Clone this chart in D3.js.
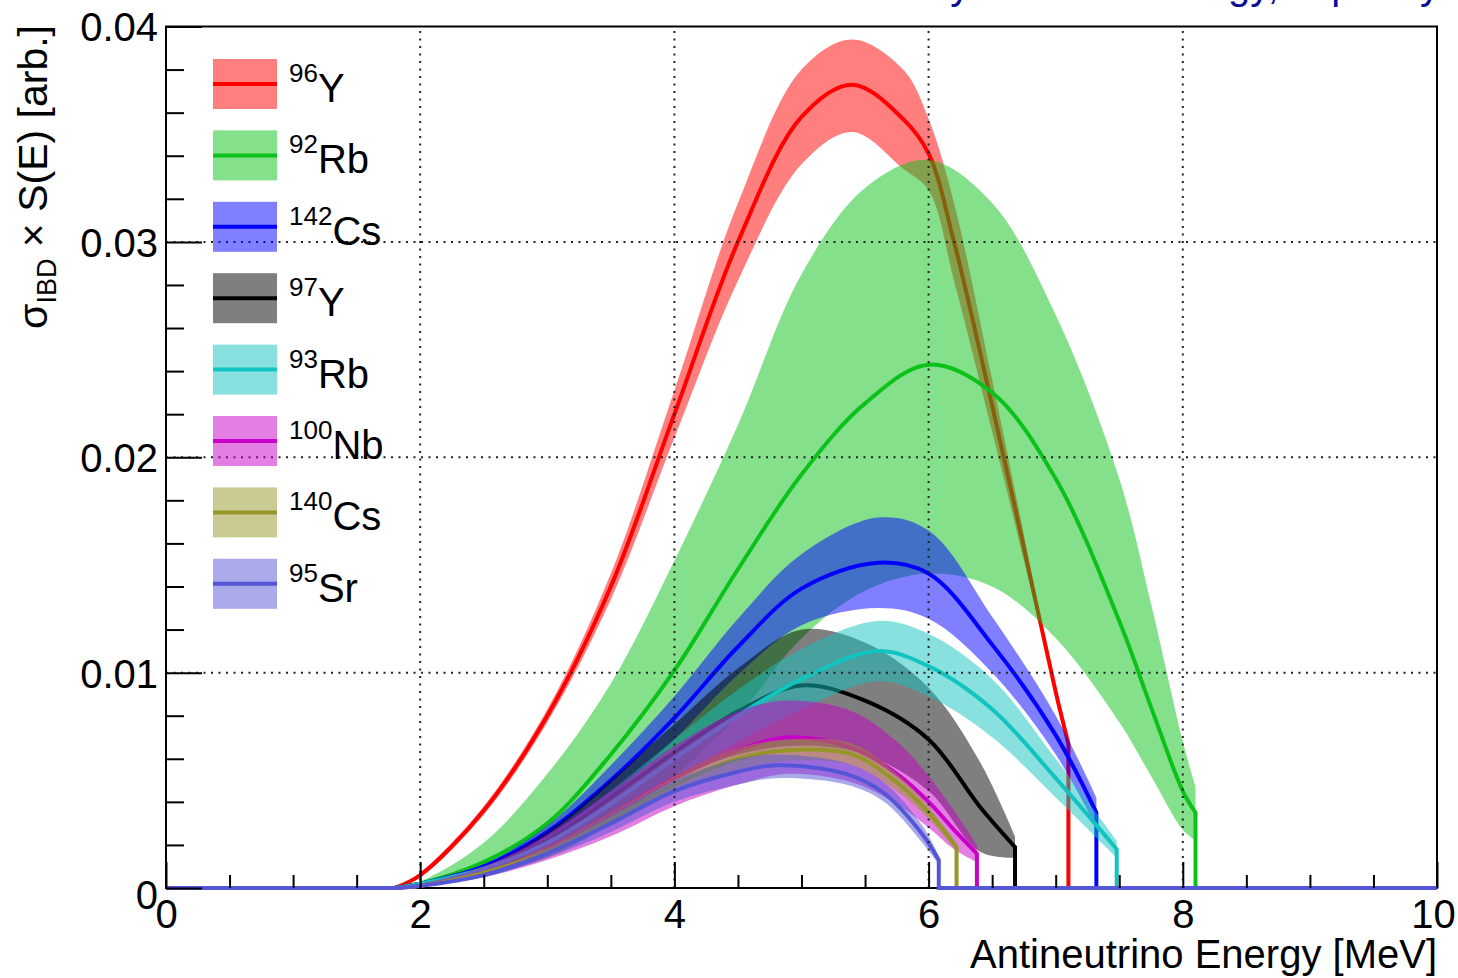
<!DOCTYPE html>
<html>
<head>
<meta charset="utf-8">
<script src="https://cdn.jsdelivr.net/npm/d3@7"></script>
<style>
  html, body { margin: 0; padding: 0; background: #fff; }
  svg { display: block; }
  text { font-family: "Liberation Sans", Arial, Helvetica, sans-serif; fill: #000; }
</style>
</head>
<body>
<svg id="chart" width="1458" height="978"></svg>
<script>
// ---------------- DATA ----------------
const isotopeNames = ["96Y", "92Rb", "142Cs", "97Y", "93Rb", "100Nb", "140Cs", "95Sr"];
const massNumbers  = ["96", "92", "142", "97", "93", "100", "140", "95"];
const elements     = ["Y", "Rb", "Cs", "Y", "Rb", "Nb", "Cs", "Sr"];

const xTickValues = [0, 2, 4, 6, 8, 10];
const xTickLabels = ["0", "2", "4", "6", "8", "10"];
const yTickValues = [0, 0.01, 0.02, 0.03, 0.04];
const yTickLabels = ["0", "0.01", "0.02", "0.03", "0.04"];

// 96Y
const e_96Y  = [1.8, 2.0, 2.5, 3.0, 3.5, 4.0, 4.5, 5.0, 5.4, 5.8, 6.0, 6.2, 6.5, 6.75, 7.0, 7.1];
const c_96Y  = [0, .0006, .0036, .0080, .0140, .0220, .0300, .0358, .0373, .0357, .0341, .0300, .0224, .0158, .0091, .0067];
const hi_96Y = [0, .0007, .0038, .0083, .0146, .0231, .0318, .0380, .0394, .0380, .0357, .0318, .0236, .0164, .0091, .0067];
const lo_96Y = [0, .0005, .0034, .0077, .0134, .0209, .0282, .0336, .0351, .0334, .0324, .0282, .0212, .0152, .0091, .0067];
// 92Rb
const e_92Rb  = [1.8, 2.0, 2.5, 3.0, 3.5, 4.0, 4.5, 5.0, 5.5, 6.0, 6.5, 7.0, 7.5, 7.75, 8.0, 8.1];
const c_92Rb  = [0, .0002, .0012, .0030, .0062, .0101, .0148, .0192, .0225, .0243, .0230, .0190, .0124, .0084, .0045, .0035];
const hi_92Rb = [0, .0003, .0021, .0053, .0095, .0152, .0215, .0285, .0325, .0338, .0318, .0266, .0190, .0132, .0068, .0047];
const lo_92Rb = [0, .0001, .0006, .0014, .0030, .0052, .0080, .0116, .0138, .0146, .0140, .0116, .0077, .0052, .0027, .0022];
// 142Cs
const e_142Cs  = [1.8, 2.0, 2.5, 3.0, 3.5, 4.0, 4.5, 5.0, 5.6, 6.0, 6.5, 7.0, 7.32];
const c_142Cs  = [0, .0002, .0010, .0026, .0050, .0079, .0112, .0139, .0151, .0146, .0113, .0071, .0035];
const hi_142Cs = [0, .0002, .0011, .0029, .0057, .0089, .0125, .0155, .0172, .0166, .0126, .0080, .0042];
const lo_142Cs = [0, .0002, .0009, .0022, .0043, .0069, .0099, .0122, .0130, .0125, .0100, .0062, .0028];
// 97Y
const e_97Y  = [1.8, 2.0, 2.5, 3.0, 3.5, 4.0, 4.5, 5.0, 5.5, 6.0, 6.4, 6.68];
const c_97Y  = [0, .0002, .0009, .0022, .0042, .0063, .0082, .0094, .0087, .0069, .0038, .0019];
const hi_97Y = [0, .0002, .0010, .0026, .0050, .0076, .0102, .0120, .0114, .0093, .0059, .0024];
const lo_97Y = [0, .0001, .0008, .0018, .0034, .0050, .0062, .0066, .0062, .0045, .0017, .0014];
// 93Rb
const e_93Rb  = [1.8, 2.0, 2.5, 3.0, 3.5, 4.0, 4.5, 5.0, 5.6, 6.0, 6.5, 7.0, 7.48];
const c_93Rb  = [0, .0002, .0009, .0021, .0039, .0060, .0080, .0097, .0110, .0103, .0083, .0051, .0018];
const hi_93Rb = [0, .0002, .0010, .0024, .0045, .0069, .0092, .0111, .0124, .0118, .0097, .0060, .0022];
const lo_93Rb = [0, .0001, .0008, .0018, .0033, .0051, .0068, .0083, .0096, .0089, .0070, .0042, .0014];
// 100Nb
const e_100Nb  = [1.8, 2.0, 2.5, 3.0, 3.5, 4.0, 4.5, 4.9, 5.4, 5.75, 6.0, 6.2, 6.38];
const c_100Nb  = [0, .0001, .0007, .0018, .0034, .0051, .0064, .0070, .0065, .0053, .0040, .0027, .0016];
const hi_100Nb = [0, .0002, .0010, .0025, .0045, .0066, .0082, .0087, .0082, .0068, .0052, .0036, .0020];
const lo_100Nb = [0, .0001, .0005, .0013, .0024, .0038, .0048, .0053, .0049, .0039, .0028, .0018, .0012];
// 140Cs
const e_140Cs  = [1.8, 2.0, 2.5, 3.0, 3.5, 4.0, 4.5, 4.9, 5.4, 5.75, 6.0, 6.22];
const c_140Cs  = [0, .0001, .0007, .0017, .0032, .0048, .0060, .0064, .0062, .0049, .0035, .0019];
const hi_140Cs = [0, .0001, .0008, .0019, .0035, .0052, .0065, .0069, .0067, .0053, .0038, .0021];
const lo_140Cs = [0, .0001, .0006, .0015, .0029, .0044, .0055, .0059, .0057, .0045, .0032, .0017];
// 95Sr
const e_95Sr  = [1.8, 2.0, 2.5, 3.0, 3.5, 4.0, 4.5, 4.8, 5.35, 5.65, 5.95, 6.08];
const c_95Sr  = [0, .0001, .0006, .0016, .0030, .0045, .0054, .0057, .0053, .0044, .0025, .0013];
const hi_95Sr = [0, .0001, .0007, .0018, .0034, .0050, .0060, .0062, .0058, .0049, .0029, .0015];
const lo_95Sr = [0, .0001, .0005, .0014, .0026, .0040, .0048, .0051, .0048, .0040, .0021, .0011];

const seriesColors = ["#ff0000", "#0cc21a", "#0000ff", "#000000", "#12c4c0", "#c800c8", "#969628", "#5555d8"];

// ---------------- BUILD ----------------
const energies = [e_96Y, e_92Rb, e_142Cs, e_97Y, e_93Rb, e_100Nb, e_140Cs, e_95Sr];
const centrals = [c_96Y, c_92Rb, c_142Cs, c_97Y, c_93Rb, c_100Nb, c_140Cs, c_95Sr];
const uppers   = [hi_96Y, hi_92Rb, hi_142Cs, hi_97Y, hi_93Rb, hi_100Nb, hi_140Cs, hi_95Sr];
const lowers   = [lo_96Y, lo_92Rb, lo_142Cs, lo_97Y, lo_93Rb, lo_100Nb, lo_140Cs, lo_95Sr];

const series = isotopeNames.map((name, k) => ({
  name, mass: massNumbers[k], el: elements[k], color: seriesColors[k],
  pts: energies[k].map((e, i) => ({ e, c: centrals[k][i], hi: uppers[k][i], lo: lowers[k][i] }))
}));

const svg = d3.select("#chart");
const L = 166, R = 1437, T = 26.5, B = 888;
const x = d3.scaleLinear().domain([0, 10]).range([L, R]);
const y = d3.scaleLinear().domain([0, 0.04]).range([B, T]);

// frame (under the data)
svg.append("rect").attr("x", L).attr("y", T).attr("width", R - L).attr("height", B - T)
  .attr("fill", "none").attr("stroke", "#000").attr("stroke-width", 2);

const dataG = svg.append("g");
const smooth = d3.curveCatmullRom.alpha(0.5);
const area = d3.area().x(d => x(d.e)).y0(d => y(d.lo)).y1(d => y(d.hi)).curve(smooth);
const curveLine = d3.line().x(d => x(d.e)).y(d => y(d.c)).curve(smooth);

series.forEach(s => {
  dataG.append("path").attr("d", area(s.pts))
    .attr("fill", s.color).attr("fill-opacity", 0.5).attr("stroke", "none");
  const first = s.pts[0], last = s.pts[s.pts.length - 1];
  const d = "M" + x(0) + "," + y(0) + "L" + curveLine(s.pts).slice(1) +
            "L" + x(last.e) + "," + y(0) + "L" + x(10) + "," + y(0);
  dataG.append("path").attr("d", d).attr("fill", "none")
    .attr("stroke", s.color).attr("stroke-width", 4).attr("stroke-linejoin", "miter");
});

// grid (dotted) on top
const gridG = svg.append("g").attr("stroke", "#222").attr("stroke-width", 2).attr("stroke-dasharray", "2,5.5");
[2, 4, 6, 8].forEach(v => gridG.append("line").attr("x1", x(v)).attr("x2", x(v)).attr("y1", B).attr("y2", T));
[0.01, 0.02, 0.03].forEach(v => gridG.append("line").attr("x1", L).attr("x2", R).attr("y1", y(v)).attr("y2", y(v)));

// axes
const xMinor = d3.range(0, 10.01, 0.5).filter(v => v % 2 !== 0);
const yMinor = d3.range(0, 0.0401, 0.002).filter(v => Math.abs(v / 0.01 - Math.round(v / 0.01)) > 1e-6);

const xAxisMajor = d3.axisBottom(x).tickValues(xTickValues).tickSizeInner(-26).tickSizeOuter(0)
  .tickFormat((d, i) => xTickLabels[i]).tickPadding(0);
const gx = svg.append("g").attr("transform", `translate(0,${B})`).call(xAxisMajor);
gx.select(".domain").remove();
gx.selectAll("line").attr("stroke", "#000").attr("stroke-width", 2);
gx.selectAll("text").attr("font-size", 40).attr("y", 40).attr("dy", 0)
  .attr("font-family", '"Liberation Sans", Arial, sans-serif');
gx.selectAll(".tick").filter(d => d === 10).select("text").attr("x", -4);

const gxm = svg.append("g").attr("transform", `translate(0,${B})`)
  .call(d3.axisBottom(x).tickValues(xMinor).tickSizeInner(-13).tickSizeOuter(0).tickFormat(""));
gxm.select(".domain").remove();
gxm.selectAll("line").attr("stroke", "#000").attr("stroke-width", 2);

const yAxisMajor = d3.axisLeft(y).tickValues(yTickValues).tickSizeInner(-36).tickSizeOuter(0)
  .tickFormat((d, i) => yTickLabels[i]).tickPadding(0);
const gy = svg.append("g").attr("transform", `translate(${L},0)`).call(yAxisMajor);
gy.select(".domain").remove();
gy.selectAll("line").attr("stroke", "#000").attr("stroke-width", 2);
gy.selectAll("text").attr("font-size", 40).attr("x", -8).attr("dy", "0.36em")
  .attr("font-family", '"Liberation Sans", Arial, sans-serif');
gy.selectAll(".tick").filter(d => d === 0).select("text").attr("dy", "0.52em");

const gym = svg.append("g").attr("transform", `translate(${L},0)`)
  .call(d3.axisLeft(y).tickValues(yMinor).tickSizeInner(-18).tickSizeOuter(0).tickFormat(""));
gym.select(".domain").remove();
gym.selectAll("line").attr("stroke", "#000").attr("stroke-width", 2);

// axis titles
svg.append("text").attr("x", R).attr("y", 968).attr("text-anchor", "end")
  .attr("font-size", 40).text("Antineutrino Energy [MeV]");

const yt = svg.append("text").attr("transform", "translate(47,25) rotate(-90)")
  .attr("text-anchor", "end").attr("font-size", 41);
yt.append("tspan").text("σ");
yt.append("tspan").attr("font-size", 27).attr("dy", 9).text("IBD");
yt.append("tspan").attr("dy", -9).text(" × S(E) [arb.]");

// legend
const legG = svg.append("g");
series.forEach((s, i) => {
  const cy = 84 + i * 71.4;
  legG.append("rect").attr("x", 213).attr("y", cy - 25).attr("width", 64).attr("height", 50)
    .attr("fill", s.color).attr("fill-opacity", 0.5);
  legG.append("line").attr("x1", 213).attr("x2", 277).attr("y1", cy).attr("y2", cy)
    .attr("stroke", s.color).attr("stroke-width", 4);
  const t = legG.append("text").attr("x", 289).attr("y", cy + 18).attr("font-size", 40);
  t.append("tspan").attr("font-size", 26).attr("dy", -20).text(s.mass);
  t.append("tspan").attr("dy", 20).text(s.el);
});

// clipped slide-title fragment at the very top (only its descenders show, as in the reference)
svg.append("text").attr("x", 799).attr("y", -1).attr("font-size", 40).style("fill", "#0a0a96")
  .text("Sorted by Neutrino Energy, Top 8 by Yield");
</script>
</body>
</html>
